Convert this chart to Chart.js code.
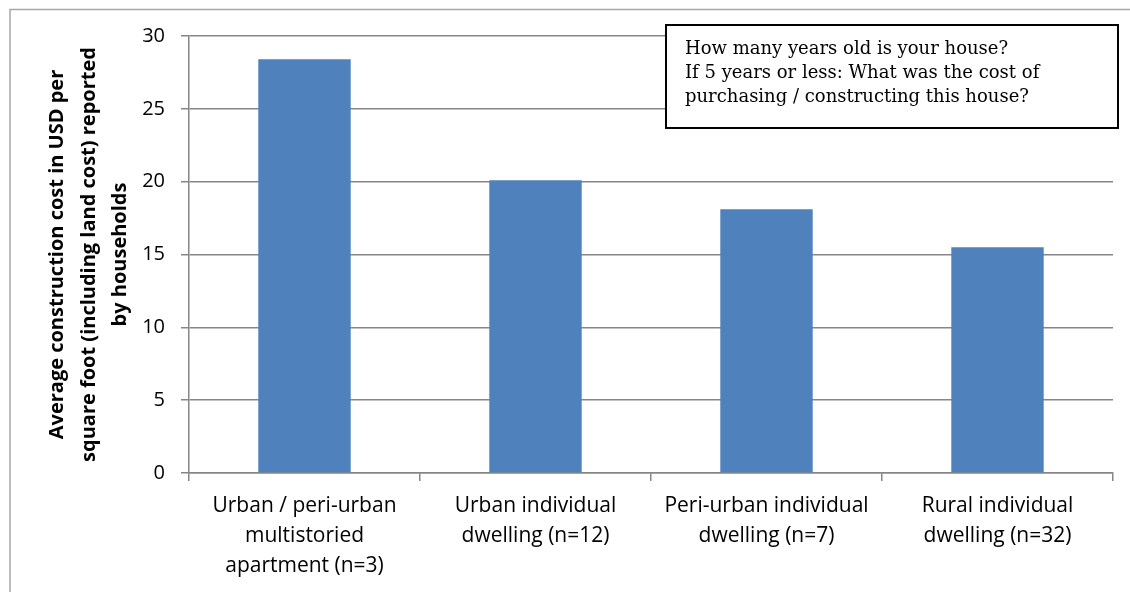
<!DOCTYPE html>
<html>
<head>
<meta charset="utf-8">
<script src="https://cdn.jsdelivr.net/npm/chart.js@4/dist/chart.umd.min.js"></script>
<style>
  html, body { margin: 0; padding: 0; background: #ffffff; }
  #wrap { width: 1130px; height: 592px; position: relative; }
</style>
</head>
<body>
<div id="wrap"><canvas id="c" width="1130" height="592"></canvas></div>
<script>
// Housing categories (multi-line axis labels)
const categories = [
  ["Urban / peri-urban", "multistoried", "apartment (n=3)"],
  ["Urban individual", "dwelling (n=12)"],
  ["Peri-urban individual", "dwelling (n=7)"],
  ["Rural individual", "dwelling (n=32)"]
];

// Average construction cost, USD per square foot
const costPerSqFt = [28.4, 20.1, 18.1, 15.5];

// Value axis ticks
const yTicks = [0, 5, 10, 15, 20, 25, 30];

// Axis title lines
const yTitleLines = [
  "Average construction cost in USD per",
  "square foot (including land cost) reported",
  "by households"
];

// Survey question shown in the note box
const questionLines = [
  "How many years old is your house?",
  "If 5 years or less: What was the cost of",
  "purchasing / constructing this house?"
];

const GRID = '#868686';
const SANS = '"Open Sans", "Liberation Sans", sans-serif';

// Outer frame behind the chart
const framePlugin = {
  id: 'frame',
  beforeDraw(chart) {
    const ctx = chart.ctx;
    ctx.save();
    ctx.fillStyle = '#ffffff';
    ctx.fillRect(0, 0, chart.width, chart.height);
    ctx.strokeStyle = '#a6a6a6';
    ctx.lineWidth = 1.5;
    ctx.strokeRect(10, 9.5, chart.width + 20, chart.height + 20);
    ctx.restore();
  }
};

// Note box with the survey question
const notePlugin = {
  id: 'note',
  afterDraw(chart) {
    const ctx = chart.ctx;
    const x = 666, y = 25, w = 452, h = 103;
    ctx.save();
    ctx.fillStyle = '#ffffff';
    ctx.fillRect(x, y, w, h);
    ctx.strokeStyle = '#000000';
    ctx.lineWidth = 2;
    ctx.strokeRect(x, y, w, h);
    ctx.fillStyle = '#000000';
    ctx.font = '18px "DejaVu Serif", "Liberation Serif", serif';
    ctx.textBaseline = 'alphabetic';
    ctx.textAlign = 'left';
    questionLines.forEach((line, i) => {
      ctx.fillText(line, 685, 54 + i * 24);
    });
    ctx.restore();
  }
};

new Chart(document.getElementById('c'), {
  type: 'bar',
  data: {
    labels: categories,
    datasets: [{
      data: costPerSqFt,
      backgroundColor: '#4F81BD',
      borderWidth: 0,
      barPercentage: 0.8,
      categoryPercentage: 0.5
    }]
  },
  options: {
    responsive: false,
    animation: false,
    devicePixelRatio: 1,
    layout: { padding: { left: 0, top: 36, right: 17, bottom: 0 } },
    plugins: {
      legend: { display: false },
      tooltip: { enabled: false }
    },
    scales: {
      x: {
        offset: true,
        afterFit(scale) { scale.height = 119; },
        grid: {
          offset: true,
          drawOnChartArea: false,
          drawTicks: true,
          tickLength: 8,
          color: GRID,
          lineWidth: 1.5
        },
        border: { display: true, color: GRID, width: 1.5 },
        ticks: {
          color: '#000000',
          padding: 10,
          maxRotation: 0,
          autoSkip: false,
          font: { family: SANS, size: 21, lineHeight: 1.43 }
        }
      },
      y: {
        min: 0,
        max: 30,
        afterFit(scale) { scale.width = 189; },
        afterBuildTicks(scale) { scale.ticks = yTicks.map(v => ({ value: v })); },
        grid: {
          color: GRID,
          lineWidth: 1.5,
          drawTicks: true,
          tickLength: 8
        },
        border: { display: true, color: GRID, width: 1.5 },
        ticks: {
          color: '#000000',
          padding: 16,
          font: { family: SANS, size: 20 }
        },
        title: {
          display: true,
          text: yTitleLines,
          color: '#000000',
          padding: { top: 42, bottom: 0 },
          font: { family: SANS, size: 20, weight: 'bold', lineHeight: 1.575 }
        }
      }
    }
  },
  plugins: [framePlugin, notePlugin]
});
</script>
</body>
</html>
